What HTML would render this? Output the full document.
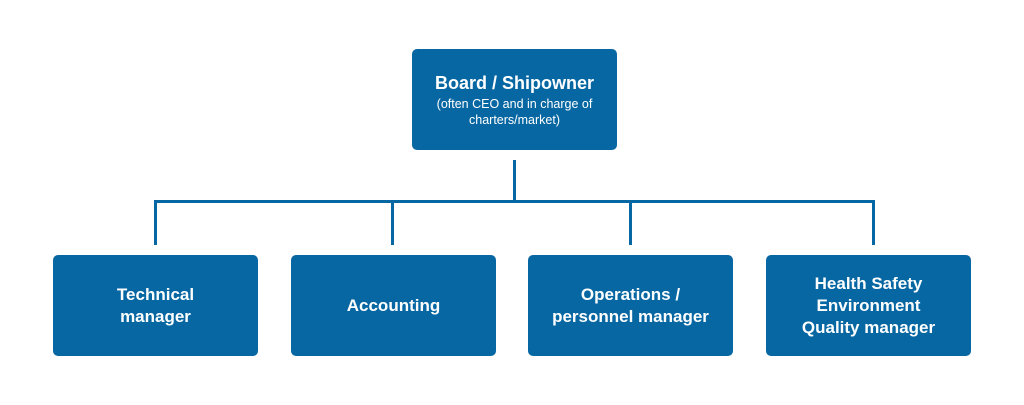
<!DOCTYPE html>
<html><head><style>
body{margin:0;width:1024px;height:405px;background:#fff;position:relative;overflow:hidden;font-family:"Liberation Sans",sans-serif}
.b{position:absolute;background:#0767a2;border-radius:5px;color:#fff;display:flex;flex-direction:column;align-items:center;justify-content:center;text-align:center;font-weight:bold;font-size:17px;line-height:22px}
.s{font-weight:normal;font-size:12.5px;line-height:16px}
.l{position:absolute;background:#0767a2}
</style></head><body>
<div class="b" style="left:412px;top:49px;width:205px;height:101px"><div style="font-size:18px">Board / Shipowner</div><div class="s" style="margin-top:2px">(often CEO and in charge of<br>charters/market)</div></div>
<div class="l" style="left:513px;top:160px;width:3px;height:42px"></div>
<div class="l" style="left:154px;top:200px;width:721px;height:3px"></div>
<div class="l" style="left:154px;top:200px;width:3px;height:45px"></div>
<div class="l" style="left:391px;top:200px;width:3px;height:45px"></div>
<div class="l" style="left:629px;top:200px;width:3px;height:45px"></div>
<div class="l" style="left:872px;top:200px;width:3px;height:45px"></div>
<div class="b" style="left:53px;top:255px;width:205px;height:101px">Technical<br>manager</div>
<div class="b" style="left:291px;top:255px;width:205px;height:101px">Accounting</div>
<div class="b" style="left:528px;top:255px;width:205px;height:101px">Operations /<br>personnel manager</div>
<div class="b" style="left:766px;top:255px;width:205px;height:101px">Health Safety<br>Environment<br>Quality manager</div>
</body></html>
